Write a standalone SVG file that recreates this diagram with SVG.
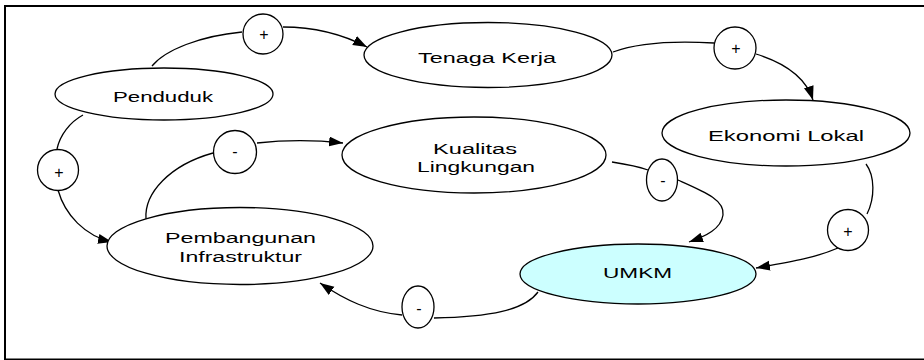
<svg xmlns="http://www.w3.org/2000/svg" width="924" height="360" viewBox="0 0 924 360">
  <defs>
    <marker id="arrow" markerUnits="userSpaceOnUse" markerWidth="15" markerHeight="11" refX="14" refY="5" orient="auto">
      <path d="M0,0 L14,5 L0,10 z" fill="#000"/>
    </marker>
    <style>
      .node { fill: #fff; stroke: #000; stroke-width: 1.3; }
      .hl { fill: #ccffff; }
      .sign { fill: #fff; stroke: #000; stroke-width: 1.3; }
      .edge { fill: none; stroke: #000; stroke-width: 1.3; }
      .arr { marker-end: url(#arrow); }
      text { font-family: "Liberation Sans", Arial, sans-serif; font-size: 15px; fill: #000; }
      .lbl { text-anchor: middle; }
      .sg { font-size: 16px; }
    </style>
  </defs>

  <rect x="5" y="6" width="930" height="353.5" fill="#fff" stroke="#000" stroke-width="2"/>

  <g id="connectors">
    <!-- Penduduk -> Tenaga Kerja -->
    <path class="edge" d="M152,66 C165,50 200,36 242,32"/>
    <path class="edge arr" d="M283,27 C315,27 342,34 367,47"/>
    <!-- Tenaga Kerja -> Ekonomi Lokal -->
    <path class="edge" d="M613,52 C640,42 680,41 714,43"/>
    <path class="edge arr" d="M756,54 C785,63 806,78 813,100"/>
    <!-- Ekonomi Lokal -> UMKM -->
    <path class="edge" d="M866,164 C875,176 875,198 867,214"/>
    <path class="edge arr" d="M838,248 C815,258 790,262 756,268"/>
    <!-- Kualitas Lingkungan -> UMKM -->
    <path class="edge" d="M612,162 C625,164 637,166 648,170"/>
    <path class="edge arr" d="M678,180 C705,192 725,200 723,215 C721,229 706,236 689,242"/>
    <!-- UMKM -> Pembangunan Infrastruktur -->
    <path class="edge" d="M538,292 C525,310 490,317 434,318"/>
    <path class="edge arr" d="M402,315 C370,312 345,300 320,283"/>
    <!-- Pembangunan Infrastruktur -> Kualitas Lingkungan -->
    <path class="edge" d="M146,219 C144,193 170,165 213,153"/>
    <path class="edge arr" d="M257,143 C285,140 315,140 343,143"/>
    <!-- Penduduk -> Pembangunan Infrastruktur -->
    <path class="edge" d="M83,115 C70,122 60,135 57,149"/>
    <path class="edge arr" d="M58,190 C65,215 85,236 112,242"/>
  </g>

  <g id="signs">
    <g id="sign-pend-tk"><circle class="sign" cx="263" cy="34" r="20"/><text class="lbl sg" x="264" y="40">+</text></g>
    <g id="sign-tk-eko"><circle class="sign" cx="735" cy="48" r="21"/><text class="lbl sg" x="736" y="54">+</text></g>
    <g id="sign-eko-umkm"><circle class="sign" cx="848" cy="230" r="20.5"/><text class="lbl sg" x="848" y="237">+</text></g>
    <g id="sign-kual-umkm"><ellipse class="sign" cx="662" cy="180" rx="15.5" ry="21"/><text class="lbl sg" x="663" y="186">-</text></g>
    <g id="sign-umkm-pemb"><ellipse class="sign" cx="418" cy="307" rx="16" ry="21"/><text class="lbl sg" x="419" y="314">-</text></g>
    <g id="sign-pemb-kual"><circle class="sign" cx="235" cy="152" r="21.5"/><text class="lbl sg" x="235" y="157">-</text></g>
    <g id="sign-pend-pemb"><circle class="sign" cx="58" cy="170" r="20.5"/><text class="lbl sg" x="59" y="178">+</text></g>
  </g>

  <!-- node labels use a 1.5x horizontal stretch -->
  <g id="penduduk">
    <ellipse class="node" cx="164" cy="94" rx="109" ry="26"/>
    <text class="lbl" transform="translate(163,102) scale(1.5,1)" textLength="66.7" lengthAdjust="spacingAndGlyphs">Penduduk</text>
  </g>
  <g id="tenaga-kerja">
    <ellipse class="node" cx="488" cy="55" rx="124" ry="32.5"/>
    <text class="lbl" transform="translate(487,63) scale(1.5,1)" textLength="92" lengthAdjust="spacingAndGlyphs">Tenaga Kerja</text>
  </g>
  <g id="ekonomi-lokal">
    <ellipse class="node" cx="786" cy="133" rx="124" ry="33"/>
    <text class="lbl" transform="translate(786,141) scale(1.5,1)" textLength="104" lengthAdjust="spacingAndGlyphs">Ekonomi Lokal</text>
  </g>
  <g id="kualitas-lingkungan">
    <ellipse class="node" cx="474" cy="155" rx="132" ry="38"/>
    <text class="lbl" transform="translate(475,154) scale(1.5,1)" textLength="56" lengthAdjust="spacingAndGlyphs">Kualitas</text>
    <text class="lbl" transform="translate(476,172) scale(1.5,1)" textLength="78.7" lengthAdjust="spacingAndGlyphs">Lingkungan</text>
  </g>
  <g id="pembangunan-infrastruktur">
    <ellipse class="node" cx="240" cy="246" rx="133" ry="38.5"/>
    <text class="lbl" transform="translate(240.5,243) scale(1.5,1)" textLength="100.7" lengthAdjust="spacingAndGlyphs">Pembangunan</text>
    <text class="lbl" transform="translate(240.5,262) scale(1.5,1)" textLength="82" lengthAdjust="spacingAndGlyphs">Infrastruktur</text>
  </g>
  <g id="umkm">
    <ellipse class="node hl" cx="638" cy="274" rx="118" ry="30"/>
    <text class="lbl" transform="translate(637.5,278) scale(1.5,1)" textLength="46" lengthAdjust="spacingAndGlyphs">UMKM</text>
  </g>
</svg>
